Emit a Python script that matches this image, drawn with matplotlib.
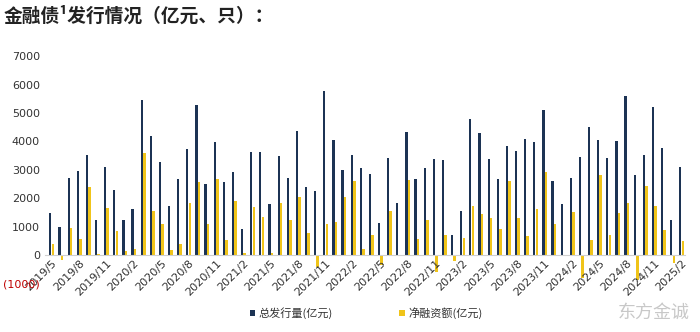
import matplotlib
matplotlib.use('Agg')
import matplotlib.pyplot as plt
import numpy as np

plt.rcParams['font.family'] = ['Noto Sans CJK SC', 'DejaVu Sans']

# monthly, 2019/5 .. 2025/2
months = []
y, m = 2019, 5
while (y, m) <= (2025, 2):
    months.append(f'{y}/{m}')
    m += 1
    if m > 12:
        y, m = y + 1, 1

issue = [1470, 1000, 2700, 2950, 3520, 1230, 3110, 2290, 1250, 1620,
         5450, 4180, 3280, 1730, 2670, 3740, 5275, 2490, 3970, 2560,
         2920, 925, 3610, 3610, 1800, 3490, 2710, 4370, 2380, 2250,
         5780, 4040, 3010, 3520, 3070, 2860, 1140, 3400, 1840, 4340,
         2670, 3050, 3380, 3340, 715, 1560, 4780, 4300, 3380, 2670,
         3850, 3670, 4070, 3970, 5120, 2610, 1800, 2710, 3460, 4510,
         4040, 3400, 4010, 5600, 2830, 3530, 5220, 3760, 1250, 3110]
net = [390, -180, 940, 550, 2380, 35, 1640, 840, 150, 210,
       3580, 1560, 1090, 175, 390, 1850, 2570, 1090, 2660, 530,
       1910, 60, 1680, 1340, 80, 1820, 1230, 2030, 785, -410,
       1090, 1170, 2030, 2600, 200, 700, -350, 1560, -30, 2640,
       550, 1230, -590, 700, -200, 610, 1740, 1430, 1320, 915,
       2610, 1290, 680, 1630, 2910, 1110, 20, 1500, -820, 530,
       2830, 700, 1470, 1830, -880, 2440, 1740, 880, -290, 490]

navy = '#1c3354'
gold = '#f0c419'

x = np.arange(len(months))
fig = plt.figure(figsize=(7, 3.32), dpi=100)
ax = fig.add_axes([0.064, 0.146, 0.915, 0.685])

ax.bar(x - 0.14, issue, width=0.24, color=navy, label='总发行量(亿元)')
ax.bar(x + 0.14, net, width=0.28, color=gold, label='净融资额(亿元)')

for s in ['top', 'right', 'left']:
    ax.spines[s].set_visible(False)
ax.spines['bottom'].set_position(('data', 0))
ax.spines['bottom'].set_color('#d0d0d0')
ax.spines['bottom'].set_linewidth(0.8)

ax.set_ylim(-1000, 7000)
ax.set_xlim(-0.75, len(months) - 0.6)
ax.set_yticks(range(-1000, 7001, 1000))
ax.set_yticklabels(['(1000)'] + [str(v) for v in range(0, 7001, 1000)],
                   fontsize=8, color='#333333', family='DejaVu Sans')
ax.get_yticklabels()[0].set_color('#c00000')

ax.set_xticks(x[::3])
ax.set_xticklabels(months[::3], rotation=45, ha='right', rotation_mode='anchor',
                   fontsize=8, color='#333333', family='DejaVu Sans')
ax.tick_params(length=0)
ax.tick_params(axis='x', pad=2)

fig.legend(loc='center', bbox_to_anchor=(0.523, 0.057), ncol=2, frameon=False,
           fontsize=8, handlelength=0.5, handleheight=0.5, columnspacing=6,
           handletextpad=0.3, labelcolor='#333333')

fig.text(0.005, 0.952, '金融债¹发行情况（亿元、只）：', fontsize=13.5, fontweight='bold',
         color='#222222', va='center')
fig.text(0.985, 0.057, '东方金诚', fontsize=13, color='#c8c8c8', ha='right', va='center')

fig.savefig('out.png', dpi=100)
plt.close(fig)
